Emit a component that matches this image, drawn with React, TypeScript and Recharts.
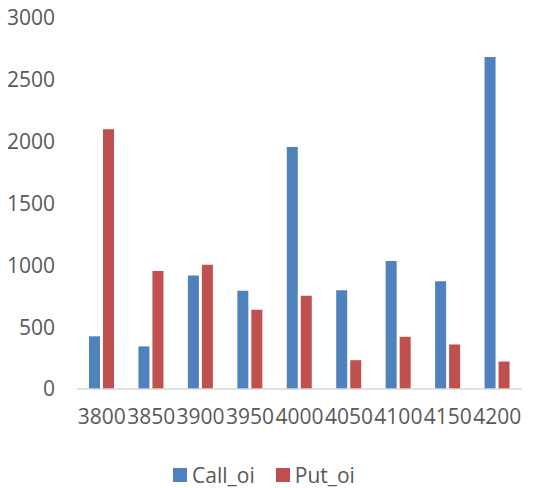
import { BarChart, Bar, XAxis, YAxis, Legend } from 'recharts';

const strikes = ['3800', '3850', '3900', '3950', '4000', '4050', '4100', '4150', '4200'];
const callOi = [426, 344, 918, 795, 1956, 798, 1036, 871, 2684];
const putOi = [2100, 955, 1004, 641, 755, 233, 422, 360, 222];
const yTicks = [0, 500, 1000, 1500, 2000, 2500, 3000];

const CALL_COLOR = '#4F81BD';
const PUT_COLOR = '#C0504D';
const TEXT_COLOR = '#595959';
const FONT = '"Open Sans", sans-serif';

const data = strikes.map((s, i) => ({ strike: s, Call_oi: callOi[i], Put_oi: putOi[i] }));

function LegendBox() {
  const items = [
    { name: 'Call_oi', color: CALL_COLOR },
    { name: 'Put_oi', color: PUT_COLOR },
  ];
  return (
    <div style={{ display: 'flex', justifyContent: 'center', gap: 21, fontFamily: FONT, fontSize: 21, color: TEXT_COLOR, lineHeight: '26px', paddingLeft: 6 }}>
      {items.map((it) => (
        <span key={it.name} style={{ display: 'flex', alignItems: 'center' }}>
          <span style={{ width: 14, height: 14, background: it.color, marginRight: 5, display: 'inline-block' }} />
          {it.name}
        </span>
      ))}
    </div>
  );
}

export default function App() {
  return (
    <div style={{ width: 534, height: 488, background: '#fff' }}>
      <style>{'body{margin:0}'}</style>
      <BarChart
        width={534}
        height={488}
        data={data}
        margin={{ top: 18, right: 12, bottom: 0, left: 0 }}
        barGap={3}
        barSize={11}
      >
        <YAxis
          domain={[0, 3000]}
          ticks={yTicks}
          width={77}
          axisLine={false}
          tickLine={false}
          tickSize={0}
          tickMargin={22}
          tick={{ fill: TEXT_COLOR, fontSize: 21, fontFamily: FONT }}
        />
        <XAxis
          dataKey="strike"
          height={73}
          axisLine={{ stroke: '#D9D9D9', strokeWidth: 1.5 }}
          tickLine={false}
          tickSize={0}
          tickMargin={20}
          interval={0}
          tick={{ fill: TEXT_COLOR, fontSize: 21, fontFamily: FONT }}
        />
        <Legend verticalAlign="bottom" content={<LegendBox />} />
        <Bar dataKey="Call_oi" fill={CALL_COLOR} isAnimationActive={false} />
        <Bar dataKey="Put_oi" fill={PUT_COLOR} isAnimationActive={false} />
      </BarChart>
    </div>
  );
}
